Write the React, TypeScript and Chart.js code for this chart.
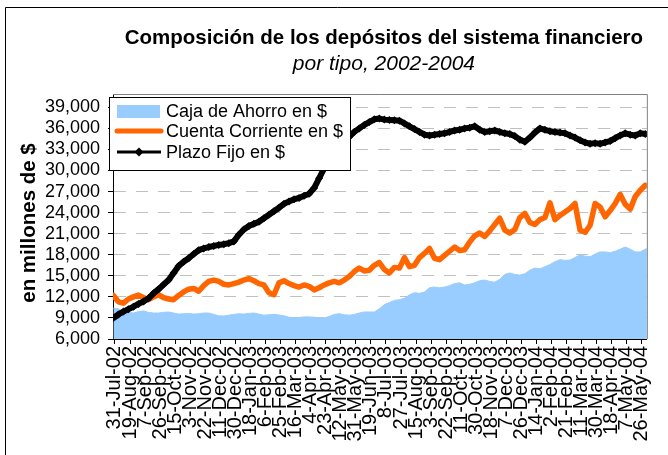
import React, { useEffect, useRef } from 'react';
import { Chart, registerables } from 'chart.js';

Chart.register(...registerables);

const TITLE = 'Composición de los depósitos del sistema financiero';
const SUBTITLE = 'por tipo, 2002-2004';
const Y_TITLE = 'en millones de $';

const TICK_LABELS = [
  '31-Jul-02', '19-Aug-02', '7-Sep-02', '26-Sep-02', '15-Oct-02', '3-Nov-02',
  '22-Nov-02', '11-Dec-02', '30-Dec-02', '18-Jan-03', '6-Feb-03', '25-Feb-03',
  '16-Mar-03', '4-Apr-03', '23-Apr-03', '12-May-03', '31-May-03', '19-Jun-03',
  '8-Jul-03', '27-Jul-03', '15-Aug-03', '3-Sep-03', '22-Sep-03', '11-Oct-03',
  '30-Oct-03', '18-Nov-03', '7-Dec-03', '26-Dec-03', '14-Jan-04', '2-Feb-04',
  '21-Feb-04', '11-Mar-04', '30-Mar-04', '18-Apr-04', '7-May-04', '26-May-04',
];
const TICK_STEP_DAYS = 19;
const SAMPLE_STEP_DAYS = 19 / 3;
const FIRST_SAMPLE_DAY = -2;
const X_MIN_DAY = -2.5;
const X_MAX_DAY = 671.3;

const Y_TICKS = [6000, 9000, 12000, 15000, 18000, 21000, 24000, 27000, 30000, 33000, 36000, 39000];
const Y_MIN = 6000;
const Y_MAX = 40900;

const cajaAhorro = [
  10400, 10300, 9900, 9800, 9700, 9900, 10000, 9800, 9700, 9700,
  9800, 9850, 9700, 9550, 9600, 9650, 9550, 9600, 9700, 9700,
  9500, 9300, 9280, 9400, 9500, 9600, 9550, 9650, 9700, 9550,
  9400, 9450, 9500, 9420, 9300, 9100, 9000, 9050, 9150, 9150,
  9100, 9000, 9000, 9200, 9500, 9600, 9450, 9400, 9500, 9700,
  9850, 9850, 9850, 10300, 10900, 11200, 11500, 11600, 11800, 12300,
  12600, 12500, 12700, 13300, 13400, 13300, 13400, 13600, 13900, 14000,
  13700, 13800, 14000, 14300, 14400, 14200, 14100, 14500, 15200, 15400,
  15200, 15100, 15300, 15800, 16100, 16000, 16300, 16600, 17000, 17300,
  17200, 17250, 17600, 18000, 17800, 17700, 18100, 18400, 18400, 18300,
  18500, 18800, 19100, 18800, 18400, 18400, 18800, 19000,
];

const cuentaCorriente = [
  12200, 11300, 11100, 11700, 12000, 12250, 11900, 11600, 12000, 12300,
  11900, 11700, 11600, 12200, 12700, 13100, 13200, 12800, 13600, 14200,
  14400, 14200, 13800, 13700, 13900, 14100, 14400, 14600, 14300, 13900,
  13700, 12600, 12300, 14000, 14300, 13900, 13600, 13400, 13700, 13500,
  13000, 13300, 13700, 14000, 14200, 14000, 14400, 14900, 15600, 16100,
  15700, 15800, 16500, 16900, 15900, 15400, 16200, 16100, 17600, 16300,
  16500, 17600, 18200, 18900, 17500, 17300, 17900, 18500, 19100, 18600,
  18700, 19800, 20700, 21100, 20600, 21400, 22300, 23200, 21500, 21100,
  21600, 23300, 23900, 22600, 22300, 23000, 23300, 25400, 23000, 23600,
  24100, 24600, 25300, 21500, 21200, 22200, 25300, 24800, 23400, 24300,
  25300, 26600, 25200, 24500, 26300, 27200, 27900, 27700,
];

const plazoFijo = [
  9000, 9500, 9900, 10250, 10600, 11000, 11350, 11800, 12500, 13100,
  13750, 14400, 15400, 16400, 17000, 17500, 18100, 18650, 18900, 19100,
  19250, 19400, 19500, 19650, 19900, 20850, 21600, 22100, 22400, 22700,
  23200, 23700, 24200, 24700, 25250, 25600, 25900, 26100, 26400, 26700,
  27500, 28900, 30300, 31300, 32200, 33200, 34100, 34800, 35500, 36000,
  36500, 36900, 37300, 37400, 37250, 37200, 37150, 37100, 36700, 36300,
  35900, 35500, 35100, 35000, 35100, 35200, 35300, 35500, 35700, 35800,
  36000, 36100, 36300, 35800, 35500, 35600, 35700, 35500, 35300, 35200,
  34900, 34400, 34100, 34700, 35400, 36000, 35800, 35600, 35500, 35400,
  35300, 35000, 34700, 34300, 34000, 33800, 33900, 33800, 34000, 34200,
  34600, 35000, 35300, 35100, 35000, 35300, 35200, 35200,
];

const SERIES_LABELS = ['Caja de Ahorro en $', 'Cuenta Corriente en $', 'Plazo Fijo en $'];
const COLOR_CAJA = '#99CCFF';
const COLOR_CUENTA = '#FF6600';
const COLOR_PLAZO = '#000000';

const FONT = "'Liberation Sans', Arial, sans-serif";

const toPoints = (values: number[]) =>
  values.map((v, i) => ({ x: FIRST_SAMPLE_DAY + i * SAMPLE_STEP_DAYS, y: v }));

const decorPlugin = {
  id: 'decor',
  afterDatasetsDraw(chart: any) {
    const { ctx, chartArea } = chart;
    ctx.save();
    ctx.strokeStyle = '#808080';
    ctx.lineWidth = 1;
    ctx.beginPath();
    ctx.moveTo(chartArea.left, chartArea.top + 0.5);
    ctx.lineTo(chartArea.right + 0.5, chartArea.top + 0.5);
    ctx.lineTo(chartArea.right + 0.5, chartArea.bottom);
    ctx.stroke();
    ctx.restore();
  },
  afterDraw(chart: any) {
    const { ctx, chartArea } = chart;
    ctx.save();
    // outer chart frame
    ctx.strokeStyle = '#000';
    ctx.lineWidth = 1;
    ctx.beginPath();
    ctx.moveTo(5.5, 470);
    ctx.lineTo(5.5, 7.5);
    ctx.lineTo(700, 7.5);
    ctx.stroke();

    // titles
    const cx = (chartArea.left + chartArea.right) / 2 + 4;
    ctx.fillStyle = '#000';
    ctx.textAlign = 'center';
    ctx.textBaseline = 'middle';
    ctx.font = `bold 20.5px ${FONT}`;
    ctx.fillText(TITLE, cx, 38);
    ctx.font = `italic 21px ${FONT}`;
    ctx.fillText(SUBTITLE, cx, 64);

    // y axis title
    ctx.save();
    ctx.translate(29, 223);
    ctx.rotate(-Math.PI / 2);
    ctx.font = `bold 20.5px ${FONT}`;
    ctx.fillText(Y_TITLE, 0, 0);
    ctx.restore();

    // legend
    const lx = 109.5, ly = 97.5, lw = 241, lh = 73;
    ctx.fillStyle = '#fff';
    ctx.fillRect(lx, ly, lw, lh);
    ctx.strokeStyle = '#000';
    ctx.lineWidth = 1;
    ctx.strokeRect(lx, ly, lw, lh);
    const rows = [111, 131, 152];
    const datasets = chart.data.datasets;
    ctx.font = `18px ${FONT}`;
    ctx.textAlign = 'left';
    ctx.textBaseline = 'middle';
    datasets.forEach((ds: any, k: number) => {
      const y = rows[k];
      if (k === 0) {
        ctx.fillStyle = ds.backgroundColor;
        ctx.fillRect(117, y - 6, 43, 13);
      } else {
        ctx.strokeStyle = ds.borderColor;
        ctx.lineWidth = k === 1 ? 5 : 3;
        ctx.lineCap = k === 1 ? 'round' : 'butt';
        ctx.beginPath();
        ctx.moveTo(117, y);
        ctx.lineTo(161, y);
        ctx.stroke();
        if (k === 2) {
          ctx.fillStyle = '#000';
          ctx.beginPath();
          ctx.moveTo(139, y - 4.5);
          ctx.lineTo(143.5, y);
          ctx.lineTo(139, y + 4.5);
          ctx.lineTo(134.5, y);
          ctx.closePath();
          ctx.fill();
        }
      }
      ctx.fillStyle = '#000';
      ctx.fillText(ds.label, 166, y + 1);
    });
    ctx.restore();
  },
};

export default function App() {
  const canvasRef = useRef<HTMLCanvasElement | null>(null);

  useEffect(() => {
    const canvas = canvasRef.current;
    if (!canvas) return;
    const chart = new Chart(canvas, {
      type: 'line',
      data: {
        datasets: [
          {
            label: SERIES_LABELS[0],
            data: toPoints(cajaAhorro),
            fill: 'start',
            backgroundColor: COLOR_CAJA,
            borderColor: COLOR_CAJA,
            borderWidth: 1,
            pointRadius: 0,
            order: 3,
          },
          {
            label: SERIES_LABELS[1],
            data: toPoints(cuentaCorriente),
            fill: false,
            borderColor: COLOR_CUENTA,
            backgroundColor: COLOR_CUENTA,
            borderWidth: 5.5,
            borderJoinStyle: 'round',
            borderCapStyle: 'round',
            pointRadius: 0,
            order: 2,
          },
          {
            label: SERIES_LABELS[2],
            data: toPoints(plazoFijo),
            fill: false,
            borderColor: COLOR_PLAZO,
            backgroundColor: COLOR_PLAZO,
            borderWidth: 6,
            borderJoinStyle: 'round',
            pointStyle: 'rectRot',
            pointRadius: 4,
            pointBorderWidth: 0,
            pointBackgroundColor: COLOR_PLAZO,
            order: 1,
          },
        ] as any,
      },
      options: {
        animation: false,
        responsive: false,
        maintainAspectRatio: false,
        layout: { padding: { top: 94, right: 16, left: 0, bottom: 0 } },
        plugins: {
          legend: { display: false },
          title: { display: false },
          tooltip: { enabled: false },
        },
        scales: {
          x: {
            type: 'linear',
            min: X_MIN_DAY,
            max: X_MAX_DAY,
            afterBuildTicks: (scale: any) => {
              scale.ticks = TICK_LABELS.map((_, k) => ({ value: k * TICK_STEP_DAYS }));
            },
            afterFit: (scale: any) => {
              scale.height = 116;
            },
            ticks: {
              autoSkip: false,
              minRotation: 90,
              maxRotation: 90,
              padding: 2,
              color: '#000',
              font: { family: FONT, size: 20 },
              callback: (value: any) => {
                const k = Math.round(Number(value) / TICK_STEP_DAYS);
                return TICK_LABELS[k] ?? '';
              },
            },
            grid: {
              display: true,
              drawOnChartArea: false,
              drawTicks: true,
              tickLength: 5,
              tickColor: '#000',
              color: '#000',
            },
            border: { display: true, color: '#000', width: 1 },
          },
          y: {
            type: 'linear',
            min: Y_MIN,
            max: Y_MAX,
            afterBuildTicks: (scale: any) => {
              scale.ticks = Y_TICKS.map((v) => ({ value: v }));
            },
            afterFit: (scale: any) => {
              scale.width = 113;
            },
            ticks: {
              autoSkip: false,
              padding: 8,
              color: '#000',
              font: { family: FONT, size: 18 },
              callback: (value: any) => Number(value).toLocaleString('en-US'),
            },
            grid: {
              color: '#C0C0C0',
              lineWidth: 1,
              drawTicks: true,
              tickLength: 5,
              tickColor: '#000',
            },
            border: { display: true, color: '#000', width: 1, dash: [12, 10] },
          },
        },
      } as any,
      plugins: [decorPlugin],
    });
    return () => chart.destroy();
  }, []);

  return (
    <div style={{ position: 'fixed', left: 0, top: 0, width: 668, height: 455, background: '#fff' }}>
      <canvas ref={canvasRef} width={668} height={455} style={{ width: 668, height: 455, display: 'block' }} />
    </div>
  );
}
